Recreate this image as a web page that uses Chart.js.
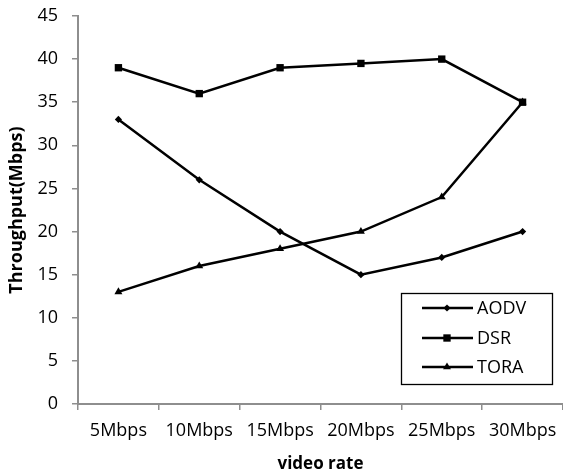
<!DOCTYPE html>
<html>
<head>
<meta charset="utf-8">
<script src="https://cdn.jsdelivr.net/npm/chart.js@4/dist/chart.umd.min.js"></script>
<style>
  html, body { margin: 0; padding: 0; background: #fff; }
  #wrap { width: 563px; height: 474px; }
</style>
</head>
<body>
<div id="wrap"><canvas id="c" width="563" height="474"></canvas></div>
<script>
// Video rate categories and measured throughput (Mbps) per routing protocol
const categories = ['5Mbps', '10Mbps', '15Mbps', '20Mbps', '25Mbps', '30Mbps'];
const aodv = [33, 26, 20, 15, 17, 20];
const dsr  = [39, 36, 39, 39.5, 40, 35];
const tora = [13, 16, 18, 20, 24, 35];
const seriesNames = ['AODV', 'DSR', 'TORA'];
const yTicks = [0, 5, 10, 15, 20, 25, 30, 35, 40, 45];

const FONT = '"Open Sans", "Liberation Sans", sans-serif';
const AXIS_GREY = '#8e8e8e';

// Markers sit well inside the category bands, so no extra room is reserved for them
Chart.LineController.prototype.getMaxOverflow = function () { return 0; };

const markerStyles = [
  { pointStyle: 'rectRot', radius: 3.6 },
  { pointStyle: 'rect', radius: 5.2 },
  { pointStyle: 'triangle', radius: 4.6 }
];

function makeSet(label, data, m) {
  return {
    label, data,
    borderColor: '#000', backgroundColor: '#000',
    borderWidth: 2.5,
    pointStyle: m.pointStyle, pointRadius: m.radius, pointHoverRadius: m.radius,
    pointBackgroundColor: '#000', pointBorderColor: '#000', pointBorderWidth: 0,
    tension: 0, fill: false, clip: false
  };
}

// Boxed legend drawn inside the plot area, bottom right
const boxLegend = {
  id: 'boxLegend',
  afterDatasetsDraw(chart) {
    const ctx = chart.ctx;
    const box = { x: 401.5, y: 293.5, w: 151, h: 91 };
    ctx.save();
    ctx.strokeStyle = '#000';
    ctx.lineWidth = 1.3;
    ctx.strokeRect(box.x, box.y, box.w, box.h);
    const rows = [308, 338, 367];
    chart.data.datasets.forEach((ds, i) => {
      const y = rows[i];
      ctx.strokeStyle = '#000';
      ctx.lineWidth = 2.4;
      ctx.beginPath();
      ctx.moveTo(422, y);
      ctx.lineTo(473, y);
      ctx.stroke();
      ctx.fillStyle = '#000';
      Chart.helpers.drawPoint(ctx, {
        pointStyle: ds.pointStyle, radius: ds.pointRadius, rotation: 0, borderWidth: 0
      }, 447, y);
      ctx.fillStyle = '#000';
      ctx.font = '18px ' + FONT;
      ctx.textBaseline = 'middle';
      ctx.textAlign = 'left';
      ctx.fillText(ds.label, 477, y + 1);
    });
    ctx.restore();
  }
};

new Chart(document.getElementById('c'), {
  type: 'line',
  data: {
    labels: categories,
    datasets: [
      makeSet(seriesNames[0], aodv, markerStyles[0]),
      makeSet(seriesNames[1], dsr, markerStyles[1]),
      makeSet(seriesNames[2], tora, markerStyles[2])
    ]
  },
  options: {
    responsive: false,
    devicePixelRatio: 1,
    animation: false,
    layout: { padding: { top: 16, right: 0, left: 0, bottom: 0 } },
    plugins: { legend: { display: false }, tooltip: { enabled: false } },
    scales: {
      x: {
        type: 'category',
        offset: true,
        grid: {
          offset: true, drawOnChartArea: false, drawTicks: true, tickLength: 6,
          color: AXIS_GREY, lineWidth: 1.5
        },
        border: { color: AXIS_GREY, width: 2 },
        ticks: { color: '#000', font: { family: FONT, size: 18 }, padding: 10, maxRotation: 0, autoSkip: false },
        title: { display: true, text: 'video rate', color: '#000', font: { family: FONT, size: 17, weight: 'bold' }, padding: { top: 6, bottom: 0 } },
        afterFit(scale) {
          scale.height = 70;
          scale.paddingLeft = 0;
          scale.paddingRight = 0;
        }
      },
      y: {
        min: 0, max: 45,
        afterBuildTicks(scale) { scale.ticks = yTicks.map(v => ({ value: v })); },
        grid: {
          drawOnChartArea: false, drawTicks: true, tickLength: 6,
          color: AXIS_GREY, lineWidth: 1.5
        },
        border: { color: AXIS_GREY, width: 2 },
        ticks: { color: '#000', font: { family: FONT, size: 18 }, padding: 14 },
        title: { display: true, text: 'Throughput(Mbps)', color: '#000', font: { family: FONT, size: 18, weight: 'bold' }, padding: { top: 6, bottom: 0 } },
        afterFit(scale) {
          scale.width = 78;
          scale.paddingTop = 0;
          scale.paddingBottom = 0;
        }
      }
    }
  },
  plugins: [boxLegend]
});
</script>
</body>
</html>
